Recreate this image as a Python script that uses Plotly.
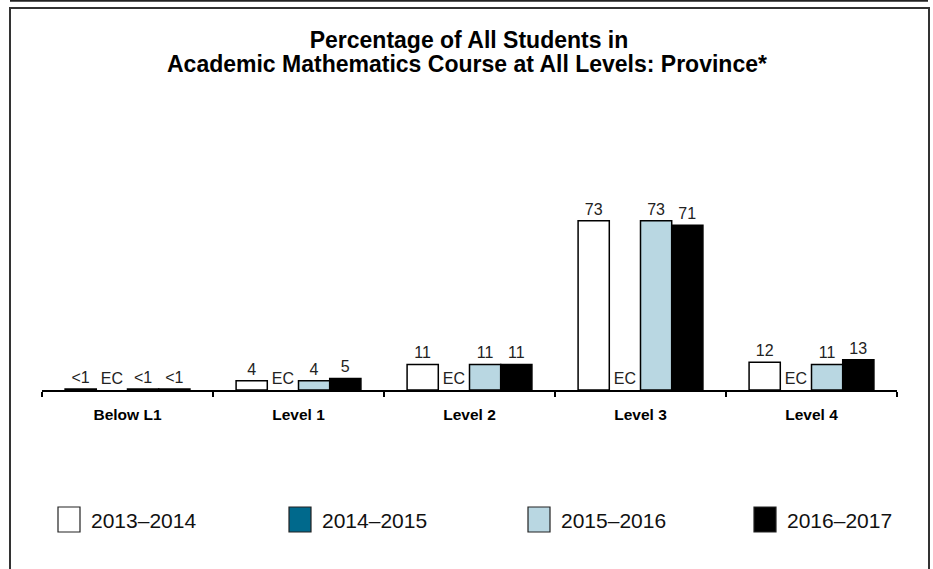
import plotly.graph_objects as go

categories = ["Below L1", "Level 1", "Level 2", "Level 3", "Level 4"]
series_names = ["2013–2014", "2014–2015", "2015–2016", "2016–2017"]
series_colors = ["#ffffff", "#00698c", "#b9d7e2", "#000000"]

vals_2013_2014 = [0.4, 4, 11, 73, 12]
text_2013_2014 = ["<1", "4", "11", "73", "12"]
vals_2014_2015 = [0, 0, 0, 0, 0]
text_2014_2015 = ["EC", "EC", "EC", "EC", "EC"]
vals_2015_2016 = [0.4, 4, 11, 73, 11]
text_2015_2016 = ["<1", "4", "11", "73", "11"]
vals_2016_2017 = [0.4, 5, 11, 71, 13]
text_2016_2017 = ["<1", "5", "11", "71", "13"]

title_line1 = "Percentage of All Students in"
title_line2 = "Academic Mathematics Course at All Levels: Province*"

all_vals = [vals_2013_2014, vals_2014_2015, vals_2015_2016, vals_2016_2017]
all_text = [text_2013_2014, text_2014_2015, text_2015_2016, text_2016_2017]

W, H = 933, 569
L, R, T, B = 42, 36, 158, 179
PW, PH = W - L - R, H - T - B
BASE = H - B


def px(x):
    return (x - L) / PW


def py(y):
    return (BASE - y) / PH


FONT = "Liberation Sans, Arial, sans-serif"

fig = go.Figure()
for name, color, v, t in zip(series_names, series_colors, all_vals, all_text):
    ec = name == "2014–2015"
    fig.add_trace(go.Bar(
        x=categories, y=v, name=name, text=t,
        textposition="outside", constraintext="none", cliponaxis=False,
        textfont=dict(family=FONT, size=16, color="#222222"),
        marker=dict(color=color, line=dict(color="#000000", width=0 if ec else 1.5)),
        showlegend=False, hoverinfo="skip",
    ))

shapes = []
# outer frame
shapes.append(dict(type="line", xref="paper", yref="paper", x0=px(10), x1=px(928), y0=py(0.8), y1=py(0.8),
                   line=dict(color="#222222", width=2)))
shapes.append(dict(type="path", xref="paper", yref="paper",
                   path=f"M {px(10)} {py(575)} L {px(10)} {py(8)} L {px(929)} {py(8)} L {px(929)} {py(575)}",
                   line=dict(color="#333333", width=2)))

annotations = []
leg_x = [58, 289, 528, 754]
for name, color, lx in zip(series_names, series_colors, leg_x):
    shapes.append(dict(type="rect", xref="paper", yref="paper", x0=px(lx), x1=px(lx + 22),
                       y0=py(532), y1=py(507), fillcolor=color, line=dict(color="#222222", width=1.2)))
    annotations.append(dict(xref="paper", yref="paper", x=px(lx + 31), y=py(520), xanchor="left",
                            yanchor="middle", text=name, showarrow=False,
                            font=dict(family=FONT, size=21, color="#111111")))

annotations.append(dict(xref="paper", yref="paper", x=px(467), y=py(64), xanchor="center",
                        yanchor="middle", text=title_line2, showarrow=False,
                        font=dict(family=FONT, size=23, color="#000000", weight="bold")))

fig.update_layout(
    width=W, height=H,
    margin=dict(l=L, r=R, t=T, b=B),
    paper_bgcolor="white", plot_bgcolor="white",
    barmode="group", bargap=0.27, bargroupgap=0,
    title=dict(text=title_line1,
               x=469 / W, xref="container", xanchor="center", y=1 - 40 / H, yanchor="middle",
               font=dict(family=FONT, size=23, color="#000000", weight="bold")),
    xaxis=dict(range=[-0.5, 4.5], showline=True, linecolor="#000000", linewidth=1.5,
               ticks="outside", tickson="boundaries", ticklen=5, tickwidth=1.5, tickcolor="#000000",
               ticklabelstandoff=10,
               tickfont=dict(family=FONT, size=15.5, color="#000000", weight="bold"),
               showgrid=False, zeroline=False, fixedrange=True),
    yaxis=dict(range=[0, 100], visible=False, showgrid=False, zeroline=False, fixedrange=True),
    shapes=shapes, annotations=annotations,
    showlegend=False,
)

fig.write_html("out.html", config={"displayModeBar": False},
               post_script="document.body.style.margin='0';")
